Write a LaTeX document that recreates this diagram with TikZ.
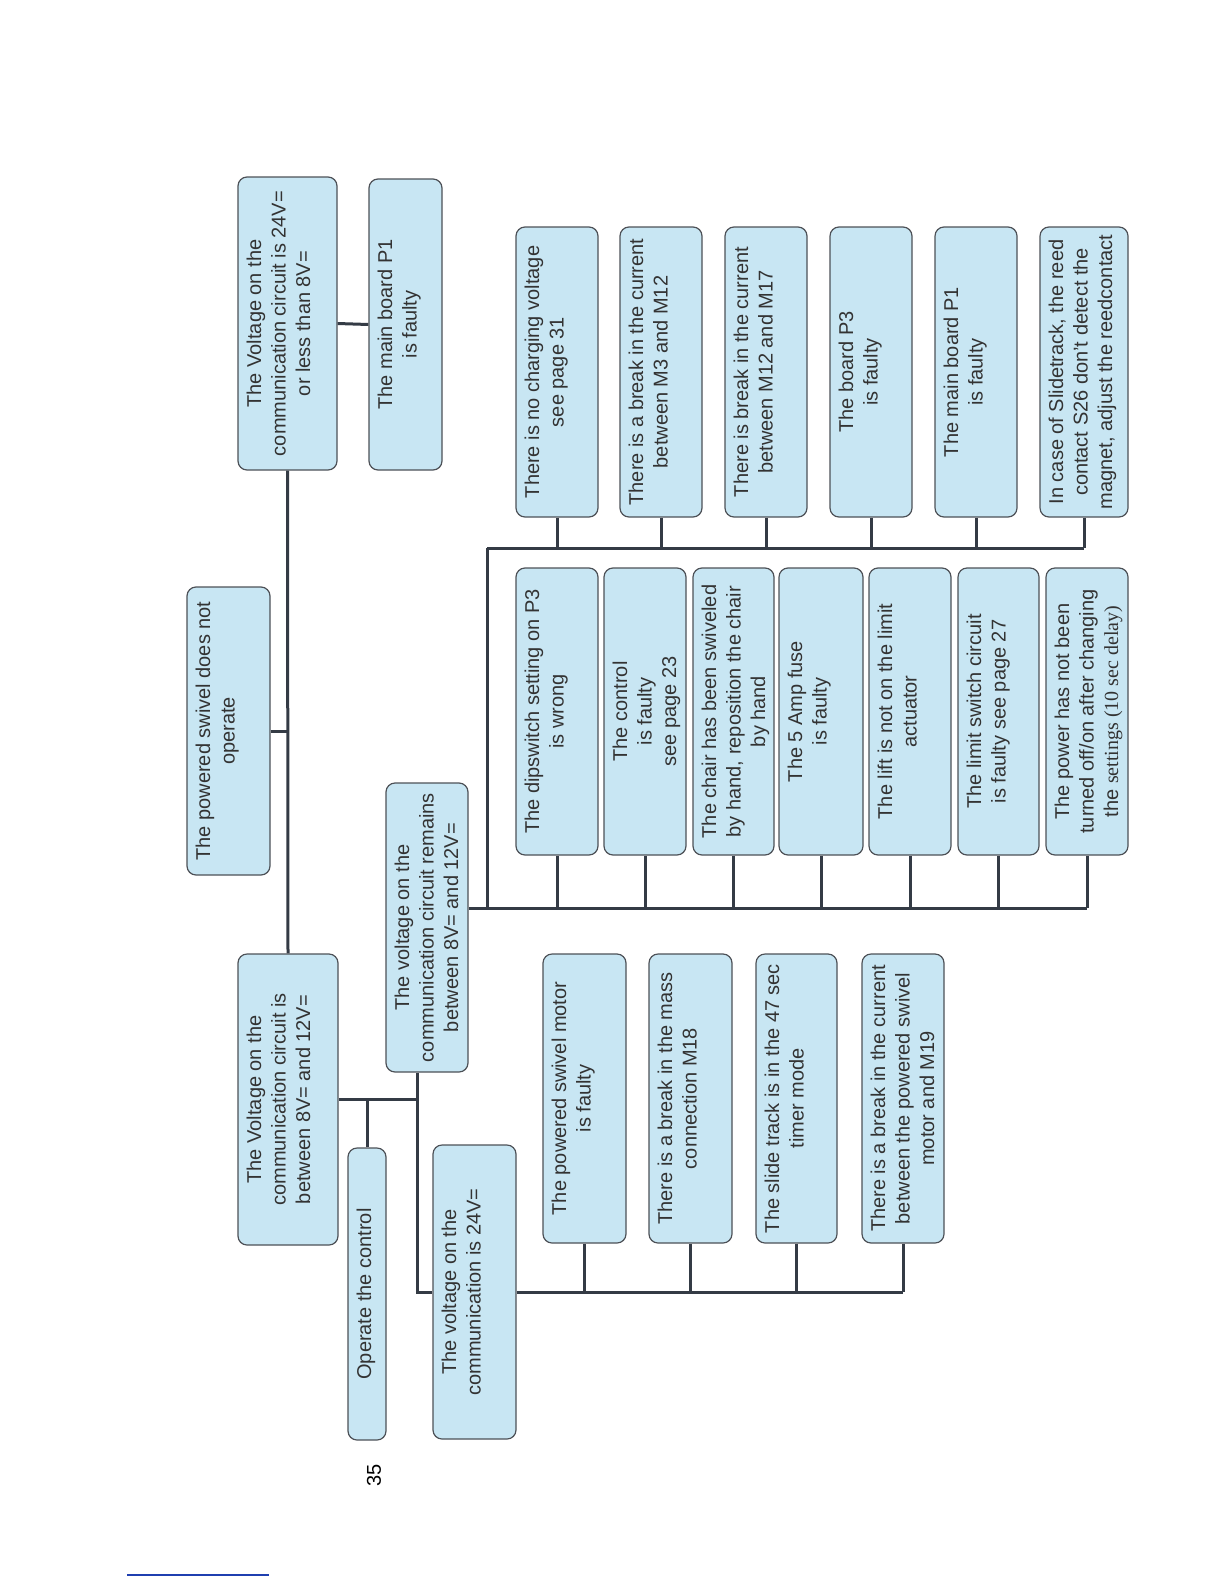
\documentclass[tikz,border=0pt]{standalone}
\usepackage{fontspec}
\setmainfont{Liberation Sans}
\newfontfamily\tnr{Liberation Serif}
\usepackage{graphicx}
\definecolor{boxfill}{HTML}{C8E6F3}
\definecolor{boxline}{HTML}{4D5157}
\definecolor{conncol}{HTML}{343B45}
\definecolor{txtcol}{HTML}{333333}
\definecolor{linkblue}{HTML}{1F3FB0}
\newcommand\rt[3]{\rotatebox{90}{\parbox[c][#1pt][t]{#2pt}{\centering\fontsize{20}{24.5}\selectfont\rule{0pt}{23pt}#3}}}
\tikzset{
  bx/.style={draw=boxline, line width=1.2pt, fill=boxfill, rounded corners=9pt, inner sep=0pt, text=txtcol},
  conn/.style={draw=conncol, line width=3pt},
}
\begin{document}
\begin{tikzpicture}[x=1pt,y=-1pt]
\useasboundingbox (0,0) rectangle (1224,1584);
% top level
\node[bx] (A) at (287.5,323.5) {\rt{99}{293}{The Voltage on the\\communication circuit is 24V=\\or less than 8V=}};
\node[bx] (B) at (405.5,324.5) {\rt{73}{291}{The main board P1\\is faulty}};
\node[bx] (R) at (228.5,731) {\rt{83}{288}{The powered swivel does not\\operate}};
\node[bx] (C) at (288,1099.5) {\rt{100}{291}{The Voltage on the\\communication circuit is\\between 8V= and 12V=}};
\node[bx] (D) at (367,1294) {\rt{38}{292}{Operate the control}};
\node[bx] (E) at (427,927.5) {\rt{82}{289}{The voltage on the\\communication circuit remains\\between 8V= and 12V=}};
\node[bx] (F) at (474.5,1292) {\rt{83}{294}{The voltage on the\\communication is 24V=}};
% upper right group
\node[bx] (T1) at (557,372) {\rt{82}{290}{There is no charging voltage\\see page 31}};
\node[bx] (T2) at (661,372) {\rt{82}{290}{There is a break in the current\\between M3 and M12}};
\node[bx] (T3) at (766,372) {\rt{82}{290}{There is break in the current\\between M12 and M17}};
\node[bx] (T4) at (871,372) {\rt{82}{290}{The board P3\\is faulty}};
\node[bx] (T5) at (976,372) {\rt{82}{290}{The main board P1\\is faulty}};
\node[bx] (T6) at (1084,372) {\rt{88}{290}{In case of Slidetrack, the reed\\contact S26 don’t detect the\\magnet, adjust the reedcontact}};
% middle group
\node[bx] (M1) at (557,711.5) {\rt{82}{287}{The dipswitch setting on P3\\is wrong}};
\node[bx] (M2) at (645,711.5) {\rt{82}{287}{The control\\is faulty\\see page 23}};
\node[bx] (M3) at (733.5,711.5) {\rt{81}{287}{The chair has been swiveled\\by hand, reposition the chair\\by hand}};
\node[bx] (M4) at (821,711.5) {\rt{84}{287}{The 5 Amp fuse\\is faulty}};
\node[bx] (M5) at (910,711.5) {\rt{82}{287}{The lift is not on the limit\\actuator}};
\node[bx] (M6) at (998.5,711.5) {\rt{81}{287}{The limit switch circuit\\is faulty see page 27}};
\node[bx] (M7) at (1087,711.5) {\rt{82}{287}{The power has not been\\turned off/on after changing\\the {\tnr settings (10 sec delay)}}};
% lower group
\node[bx] (L1) at (584.5,1098.5) {\rt{83}{289}{The powered swivel motor\\is faulty}};
\node[bx] (L2) at (690.5,1098.5) {\rt{83}{289}{There is a break in the mass\\connection M18}};
\node[bx] (L3) at (796.5,1098.5) {\rt{81}{289}{The slide track is in the 47 sec\\timer mode}};
\node[bx] (L4) at (903,1098.5) {\rt{82}{289}{There is a break in the current\\between the powered swivel\\motor and M19}};
% junction points
\coordinate (s1) at (487,548);
\coordinate (s2) at (487,908);
\coordinate (j1) at (417,1099.5);
% connectors
\draw[conn] (A.south) -- (C.north);
\draw[conn] (R.east) -- (R.east -| A.south);
\draw[conn] (A.east) -- (B.west);
\draw[conn] (C.east) -- (j1);
\draw[conn] (D.north) -- (D.north |- C.east);
\draw[conn] (E.south -| j1) -- (j1 |- F.west) -- (F.west);
\draw[conn] (F.east) -- (L4.south |- F.east);
\foreach \n in {L1,L2,L3,L4} \draw[conn] (\n.south) -- (\n.south |- F.east);
\draw[conn] (E.east |- s2) -- (M7.south |- s2);
\draw[conn] (s1) -- (s2);
\draw[conn] (s1) -- (T6.south |- s1);
\foreach \n in {T1,T2,T3,T4,T5,T6} \draw[conn] (\n.south) -- (\n.south |- s1);
\foreach \n in {M1,M2,M3,M4,M5,M6,M7} \draw[conn] (\n.south) -- (\n.south |- s2);
% page number and footer rule
\node[rotate=90, text=black, font=\fontsize{20}{24}\selectfont] (pg) at (374,1475) {35};
\coordinate (r1) at (127,1575);
\coordinate (r2) at (269,1575);
\draw[linkblue, line width=1.5pt] (r1) -- (r2);
\end{tikzpicture}
\end{document}
